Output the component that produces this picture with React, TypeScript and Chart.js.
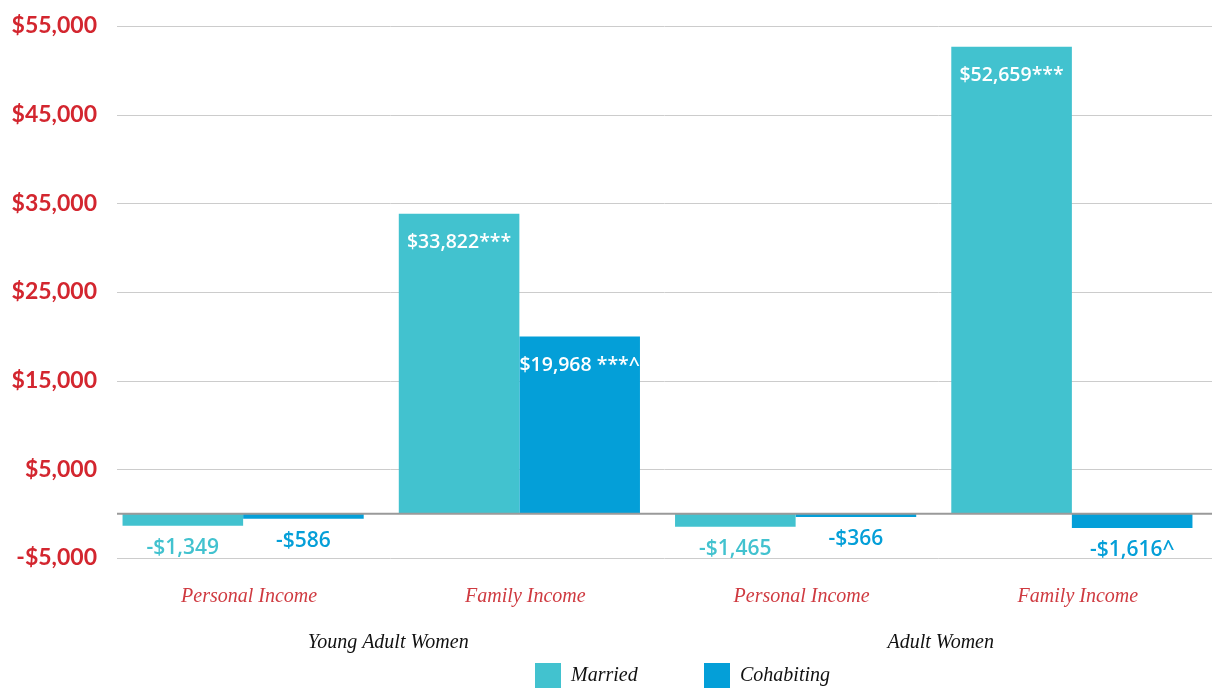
import React, { useEffect, useRef } from "react";
import { Chart, registerables } from "chart.js";

Chart.register(...registerables);

const categories = ["Personal Income", "Family Income", "Personal Income", "Family Income"];
const groups = ["Young Adult Women", "Adult Women"];
const seriesNames = ["Married", "Cohabiting"];
const marriedValues = [-1349, 33822, -1465, 52659];
const cohabitingValues = [-586, 19968, -366, -1616];
const marriedLabels = ["-$1,349", "$33,822***", "-$1,465", "$52,659***"];
const cohabitingLabels = ["-$586", "$19,968 ***^", "-$366", "-$1,616^"];
const yTicks = [-5000, 5000, 15000, 25000, 35000, 45000, 55000];
const seriesColors = ["#42c2cf", "#049fd8"];

const valueLabels = [marriedLabels, cohabitingLabels];

const fmtMoney = (v: number) => (v < 0 ? "-$" : "$") + Math.abs(v).toLocaleString("en-US");

const overlayPlugin = {
  id: "overlay",
  beforeDatasetsDraw(chart: any) {
    const { ctx, chartArea, scales } = chart;
    const y = scales.y;
    ctx.save();
    ctx.strokeStyle = "#cccccc";
    ctx.lineWidth = 1;
    for (const v of yTicks) {
      const py = Math.round(y.getPixelForValue(v)) + 0.5;
      ctx.beginPath();
      ctx.moveTo(chartArea.left + 12, py);
      ctx.lineTo(chart.width, py);
      ctx.stroke();
    }
    ctx.restore();
  },
  afterDatasetsDraw(chart: any) {
    const { ctx, chartArea, scales } = chart;
    const y = scales.y;
    const x = scales.x;
    ctx.save();
    // zero line
    const zy = y.getPixelForValue(0);
    ctx.strokeStyle = "#9a9a9a";
    ctx.lineWidth = 2;
    ctx.beginPath();
    ctx.moveTo(chartArea.left + 12, zy);
    ctx.lineTo(chart.width, zy);
    ctx.stroke();

    // value labels
    chart.data.datasets.forEach((ds: any, di: number) => {
      const meta = chart.getDatasetMeta(di);
      meta.data.forEach((bar: any, i: number) => {
        const v = ds.data[i];
        const text = valueLabels[di][i];
        ctx.textAlign = "center";
        ctx.textBaseline = "middle";
        if (v >= 0) {
          ctx.font = '600 19.5px "Open Sans"';
          ctx.fillStyle = "#ffffff";
          ctx.fillText(text, bar.x, bar.y + 29);
        } else {
          ctx.font = '600 21px "Open Sans"';
          ctx.fillStyle = seriesColors[di];
          ctx.fillText(text, bar.x, bar.y + 22);
        }
      });
    });

    // group labels
    ctx.font = 'italic 20px "Liberation Serif"';
    ctx.fillStyle = "#111111";
    ctx.textAlign = "center";
    ctx.textBaseline = "middle";
    groups.forEach((g, gi) => {
      const cx = (x.getPixelForValue(gi * 2) + x.getPixelForValue(gi * 2 + 1)) / 2 + 7;
      ctx.fillText(g, cx, 643);
    });

    // legend
    const legendX = [535, 704];
    seriesNames.forEach((name, si) => {
      ctx.fillStyle = seriesColors[si];
      ctx.fillRect(legendX[si], 663, 26, 26);
      ctx.fillStyle = "#111111";
      ctx.textAlign = "left";
      ctx.textBaseline = "middle";
      ctx.font = 'italic 20px "Liberation Serif"';
      ctx.fillText(name, legendX[si] + 36, 676);
    });
    ctx.restore();
  },
};

export default function App() {
  const canvasRef = useRef<HTMLCanvasElement | null>(null);

  useEffect(() => {
    document.body.style.margin = "0";
    const canvas = canvasRef.current;
    if (!canvas) return;
    const chart = new Chart(canvas, {
      type: "bar",
      data: {
        labels: categories,
        datasets: [
          {
            label: seriesNames[0],
            data: marriedValues,
            backgroundColor: seriesColors[0],
            borderWidth: 0,
            categoryPercentage: 0.873,
            barPercentage: 1.0,
          },
          {
            label: seriesNames[1],
            data: cohabitingValues,
            backgroundColor: seriesColors[1],
            borderWidth: 0,
            categoryPercentage: 0.873,
            barPercentage: 1.0,
          },
        ],
      },
      options: {
        responsive: false,
        animation: false,
        devicePixelRatio: 1,
        layout: { padding: { top: 26, right: 2, left: 0, bottom: 0 } },
        plugins: {
          legend: { display: false },
          tooltip: { enabled: false },
          title: { display: false },
        },
        scales: {
          x: {
            grid: { display: false, drawTicks: false },
            border: { display: false },
            ticks: {
              color: "#cf3a40",
              font: { family: "Liberation Serif", size: 20, style: "italic" },
              padding: 27,
              labelOffset: 6,
              maxRotation: 0,
              autoSkip: false,
            },
            afterFit: (scale: any) => {
              scale.height = 130;
            },
          },
          y: {
            min: -5000,
            max: 55000,
            grid: { display: false, drawTicks: false },
            border: { display: false },
            ticks: {
              color: "#d3262f",
              font: { family: "Lato", size: 23, weight: "bold" },
              padding: 8,
              callback: (v: any) => fmtMoney(Number(v)),
            },
            afterBuildTicks: (scale: any) => {
              scale.ticks = yTicks.map((v) => ({ value: v }));
            },
            afterFit: (scale: any) => {
              scale.width = 105;
            },
          },
        },
      },
      plugins: [overlayPlugin],
    });
    return () => chart.destroy();
  }, []);

  return (
    <div style={{ width: 1212, height: 688, overflow: "hidden", background: "#ffffff" }}>
      <canvas ref={canvasRef} width={1212} height={688} style={{ display: "block" }} />
    </div>
  );
}
